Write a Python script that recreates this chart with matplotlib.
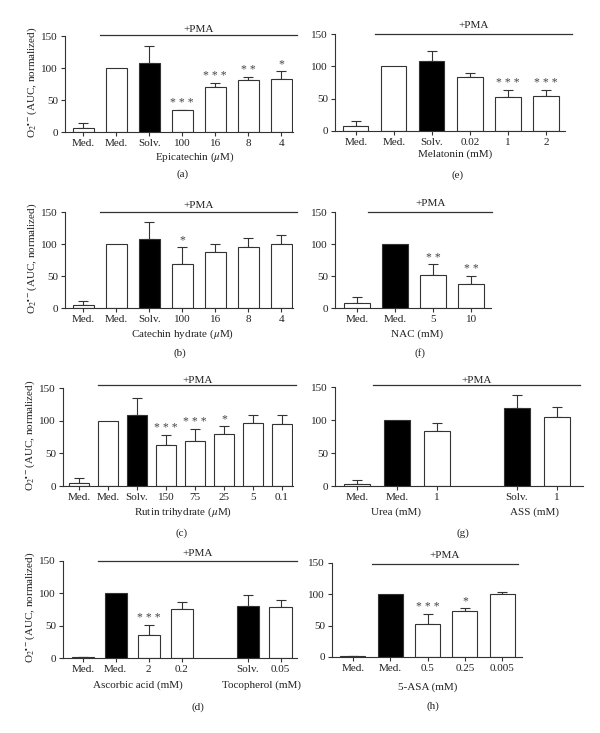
import matplotlib
matplotlib.use("Agg")
import matplotlib.pyplot as plt

plt.rcParams['font.family'] = ['Liberation Serif', 'DejaVu Serif']
plt.rcParams['mathtext.fontset'] = 'stix'

# ---------------- data ----------------
a_labels = ["Med.", "Med.", "Solv.", "100", "16", "8", "4"]
a_values = [7, 100, 108, 34, 70, 82, 83]
a_errors = [7, 0, 27, 1, 7, 4, 12]
a_stars = ["", "", "", "***", "***", "**", "*"]

e_labels = ["Med.", "Med.", "Solv.", "0.02", "1", "2"]
e_values = [7, 100, 109, 83, 53, 54]
e_errors = [8, 0, 15, 6, 11, 10]
e_stars = ["", "", "", "", "***", "***"]

b_labels = ["Med.", "Med.", "Solv.", "100", "16", "8", "4"]
b_values = [4, 100, 108, 68, 88, 95, 100]
b_errors = [7, 0, 27, 28, 12, 15, 14]
b_stars = ["", "", "", "*", "", "", ""]

f_labels = ["Med.", "Med.", "5", "10"]
f_values = [8, 100, 51, 38]
f_errors = [9, 0, 17, 12]
f_stars = ["", "", "**", "**"]

c_labels = ["Med.", "Med.", "Solv.", "150", "75", "25", "5", "0.1"]
c_values = [5, 100, 109, 62, 69, 79, 97, 95]
c_errors = [7, 0, 26, 16, 19, 13, 12, 14]
c_stars = ["", "", "", "***", "***", "*", "", ""]

g_labels = ["Med.", "Med.", "1", "Solv.", "1"]
g_values = [3, 100, 83, 118, 105]
g_errors = [6, 0, 13, 20, 15]
g_stars = ["", "", "", "", ""]

d_labels = ["Med.", "Med.", "2", "0.2", "Solv.", "0.05"]
d_values = [1, 100, 36, 76, 80, 79]
d_errors = [0.5, 0, 15, 11, 18, 11]
d_stars = ["", "", "***", "", "", ""]

h_labels = ["Med.", "Med.", "0.5", "0.25", "0.005"]
h_values = [1, 100, 53, 73, 101]
h_errors = [0.5, 0, 16, 5, 2]
h_stars = ["", "", "***", "*", ""]

yticks = [0, 50, 100, 150]
ylabel = r"O$_2$$^{\bullet -}$(AUC, normalized)"

W, H = 600, 733
fig = plt.figure(figsize=(W / 100, H / 100), dpi=100)

TXT = "#222222"
EDGE = "#333333"
FS = 8.0


def fx(x):
    return x / W


def fy(y):
    return 1 - y / H


def panel(labels, values, errors, stars, black, L, R, T, B, xlim, width,
          gap, pma, pma_y, pma_ty, xlabels, letter, show_ylabel):
    ax = fig.add_axes([fx(L), fy(B), (R - L) / W, (B - T) / H])
    pos = []
    p = 0
    for i in range(len(labels)):
        if gap is not None and i == gap:
            p += 1
        pos.append(p)
        p += 1
    colors = ["black" if i in black else "white" for i in range(len(labels))]
    ax.bar(pos, values, width=width, color=colors, edgecolor=EDGE,
           linewidth=0.8, zorder=2)
    for x, v, e, s in zip(pos, values, errors, stars):
        if e > 0:
            ax.errorbar([x], [v], yerr=[[0], [e]], fmt="none", ecolor=EDGE,
                        elinewidth=0.8, capsize=3.4, capthick=0.8, zorder=1)
        if s:
            ax.text(x, v + e + 1, " ".join(s), ha="center", va="bottom",
                    fontsize=8.5, color="#444444")
    ax.set_xlim(*xlim)
    ax.set_ylim(0, 150)
    ax.set_yticks(yticks)
    ax.set_xticks(pos)
    ax.set_xticklabels(labels)
    for s in ["top", "right"]:
        ax.spines[s].set_visible(False)
    for s in ["left", "bottom"]:
        ax.spines[s].set_linewidth(0.8)
        ax.spines[s].set_color(EDGE)
    ax.tick_params(axis="both", labelsize=FS, colors=EDGE, labelcolor=TXT,
                   length=3, width=0.8, pad=2)
    # +PMA line
    yf = (B - pma_y) / (B - T)
    ax.plot(pma, [yf, yf], transform=ax.get_xaxis_transform(), color=EDGE,
            lw=0.9, clip_on=False)
    xa = ax.transData.transform((pma[0], 0))[0]
    xb = ax.transData.transform((pma[1], 0))[0]
    xc = (xa + xb) / 2 / fig.dpi / fig.get_figwidth()
    fig.text(xc, fy(pma_ty), "+PMA", ha="center", va="center", fontsize=FS,
             color=TXT)
    for (txt, cx, cy) in xlabels:
        fig.text(fx(cx), fy(cy), txt, ha="center", va="center", fontsize=FS,
                 color=TXT)
    fig.text(fx(letter[0]), fy(letter[1]), letter[2], ha="center",
             va="center", fontsize=FS, color=TXT)
    if show_ylabel:
        fig.text(fx(L - 33), fy((T + B) / 2 - 2), ylabel, rotation=90,
                 ha="center", va="center", fontsize=FS, color=TXT)
    return ax


panel(a_labels, a_values, a_errors, a_stars, [2], 65, 293, 36, 132,
      (-0.55, 6.36), 0.64, None, (0.52, 6.48), 35, 29,
      [(r"Epicatechin ($\mu$M)", 195, 157)], (183, 174, "(a)"), True)
panel(e_labels, e_values, e_errors, e_stars, [2], 335, 565, 34, 131,
      (-0.55, 5.5), 0.66, None, (0.5, 5.68), 34, 26,
      [("Melatonin (mM)", 455, 154)], (458, 175, "(e)"), False)
panel(b_labels, b_values, b_errors, b_stars, [2], 65, 293, 212, 308,
      (-0.55, 6.36), 0.64, None, (0.52, 6.48), 212, 205,
      [(r"Catechin hydrate ($\mu$M)", 183, 334)], (180, 353, "(b)"), True)
panel(f_labels, f_values, f_errors, f_stars, [1], 335, 491, 212, 308,
      (-0.58, 3.52), 0.68, None, (0.29, 3.55), 212, 204,
      [("NAC (mM)", 417, 334)], (420, 353, "(f)"), False)
panel(c_labels, c_values, c_errors, c_stars, [2], 63, 293, 388, 486,
      (-0.55, 7.38), 0.69, None, (0.66, 7.5), 385, 380,
      [(r"Rutin trihydrate ($\mu$M)", 183, 512)], (182, 533, "(c)"), True)
panel(g_labels, g_values, g_errors, g_stars, [1, 3], 335, 583, 387, 486,
      (-0.55, 5.65), 0.67, 3, (0.4, 5.58), 385, 380,
      [("Urea (mM)", 396, 512), ("ASS (mM)", 535, 512)], (463, 533, "(g)"),
      False)
panel(d_labels, d_values, d_errors, d_stars, [1, 4], 63, 297, 561, 658,
      (-0.6, 6.5), 0.67, 4, (0.45, 6.5), 561, 554,
      [("Ascorbic acid (mM)", 138, 685), ("Tocopherol (mM)", 262, 685)],
      (198, 707, "(d)"), True)
panel(h_labels, h_values, h_errors, h_stars, [1], 332, 522, 563, 657,
      (-0.56, 4.53), 0.67, None, (0.5, 4.42), 564, 556,
      [("5-ASA (mM)", 428, 687)], (433, 706, "(h)"), False)

fig.savefig("out.png", dpi=100, facecolor="white")
